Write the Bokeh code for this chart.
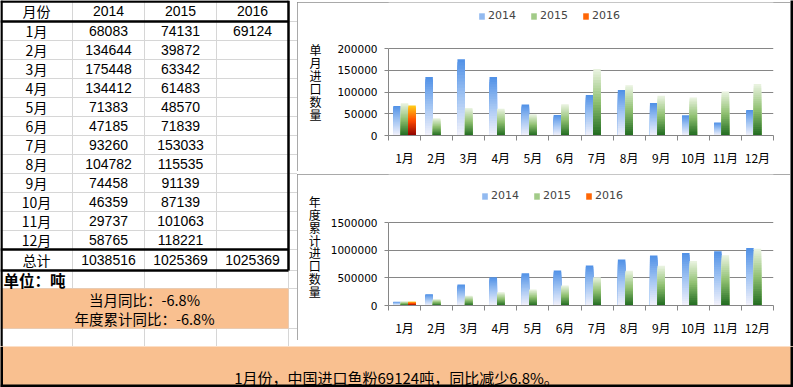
import numpy as np
from bokeh.plotting import figure
from bokeh.models import (Range1d, FixedTicker, LinearAxis, Grid, Legend, LegendItem,
                          ColumnDataSource, NumeralTickFormatter, Spacer)
from bokeh.layouts import row, column
from bokeh.embed import file_html
from bokeh.resources import INLINE
from bokeh.core.properties import value

# ---------------- data ----------------
months = ["1月", "2月", "3月", "4月", "5月", "6月", "7月", "8月", "9月", "10月", "11月", "12月"]
years = ["2014", "2015", "2016"]
imports_2014 = [68083, 134644, 175448, 134412, 71383, 47185, 93260, 104782, 74458, 46359, 29737, 58765]
imports_2015 = [74131, 39872, 63342, 61483, 48570, 71839, 153033, 115535, 91139, 87139, 101063, 118221]
imports_2016 = [69124]
totals = [1038516, 1025369, 1025369]
single_ticks = [0, 50000, 100000, 150000, 200000]
cumulative_ticks = [0, 500000, 1000000, 1500000]
header_label = "月份"
total_label = "总计"
unit_label = "单位：吨"
month_yoy = "当月同比：-6.8%"
ytd_yoy = "年度累计同比：-6.8%"
summary = "1月份，中国进口鱼粉69124吨，同比减少6.8%。"
single_title = "单月进口数量"
cumulative_title = "年度累计进口数量"

# ---------------- styles ----------------
CJK = "Noto Sans CJK SC"
NUM = "DejaVu Sans"
TNUM = "Liberation Sans"
GRAY = "#868686"
SHEET_GRID = "#d6d6d6"
ORANGE = "#f9c090"
N_SEG = 24
BAR_W = 0.234
STOPS = {
    "2014": [(0.0, "#f3f2fb"), (0.5, "#a3c5f3"), (1.0, "#4f90e6")],
    "2015": [(0.0, "#1f6a1f"), (0.5, "#8fc070"), (1.0, "#ecf4e3")],
    "2016": [(0.0, "#8c0000"), (0.5, "#ff4a00"), (1.0, "#ffcf1a")],
}
CW = 493  # chart width


def hex2rgb(h):
    return tuple(int(h[i:i + 2], 16) for i in (1, 3, 5))


def interp(stops, t):
    for (t0, c0), (t1, c1) in zip(stops[:-1], stops[1:]):
        if t <= t1:
            f = (t - t0) / (t1 - t0)
            a, b = hex2rgb(c0), hex2rgb(c1)
            return "#%02x%02x%02x" % tuple(round(a[i] + (b[i] - a[i]) * f) for i in range(3))
    return stops[-1][1]


def make_chart(series, yticks, ytitle, lead_lines, title_standoff, height, bl, fw, axis_top, fh, leg_xy):
    # frame starts at the top of the figure; the value axis only occupies its lower part
    frame_h = axis_top + fh
    ymax = yticks[-1] * frame_h / fh
    p = figure(width=CW, height=height, x_range=Range1d(-0.5, len(months) - 0.5),
               y_range=Range1d(0, ymax), title=None,
               x_axis_type=None, y_axis_type=None, output_backend="svg", toolbar_location=None,
               min_border_left=bl, min_border_right=CW - bl - fw,
               min_border_top=0, min_border_bottom=height - frame_h)
    p.outline_line_color = None
    p.background_fill_color = "white"
    p.border_fill_color = "white"
    p.styles = {"outline": "1px solid #8c8c8c", "outline-offset": "-1px"}

    yaxis = LinearAxis(ticker=FixedTicker(ticks=yticks), formatter=NumeralTickFormatter(format="0"),
                       bounds=(yticks[0], yticks[-1]))
    yaxis.axis_line_color = GRAY
    yaxis.major_tick_line_color = GRAY
    yaxis.major_tick_out = 4
    yaxis.major_tick_in = 0
    yaxis.minor_tick_out = 0
    yaxis.minor_tick_in = 0
    yaxis.major_label_standoff = 7
    yaxis.major_label_text_font = NUM
    yaxis.major_label_text_font_size = "10.5px"
    yaxis.major_label_text_color = "black"
    # stacked upright title: one character per line
    yaxis.axis_label = "\n".join(["\u3000"] * lead_lines + list(ytitle))
    yaxis.axis_label_orientation = "horizontal"
    yaxis.axis_label_text_font = CJK
    yaxis.axis_label_text_font_size = "12px"
    yaxis.axis_label_text_font_style = "normal"
    yaxis.axis_label_text_color = "black"
    yaxis.axis_label_text_line_height = 0.76
    yaxis.axis_label_standoff = title_standoff
    p.add_layout(yaxis, "left")
    p.add_layout(Grid(dimension=1, ticker=yaxis.ticker, grid_line_color=GRAY, grid_line_width=1))

    xaxis = LinearAxis(ticker=FixedTicker(ticks=list(range(len(months))),
                                          minor_ticks=[i - 0.5 for i in range(len(months) + 1)]),
                       major_label_overrides={i: m for i, m in enumerate(months)})
    xaxis.axis_line_color = GRAY
    xaxis.major_tick_out = 0
    xaxis.major_tick_in = 0
    xaxis.minor_tick_out = 5
    xaxis.minor_tick_in = 0
    xaxis.minor_tick_line_color = GRAY
    xaxis.major_label_standoff = 8
    xaxis.major_label_text_font = CJK
    xaxis.major_label_text_font_size = "12px"
    xaxis.major_label_text_color = "black"
    p.add_layout(xaxis, "below")

    items = []
    for j, (name, vals) in enumerate(series):
        n = len(vals)
        xs = [i + (j - 1) * BAR_W for i in range(n)]
        d = {"x": [], "top": [], "color": []}
        for k in range(N_SEG):
            frac = 1 - k / N_SEG
            c = interp(STOPS[name], 1 - (k + 0.5) / N_SEG)
            for x, v in zip(xs, vals):
                d["x"].append(x)
                d["top"].append(v * frac)
                d["color"].append(c)
        r = p.vbar(x="x", top="top", bottom=0, width=BAR_W, fill_color="color",
                   line_color=None, source=ColumnDataSource(d))
        items.append(LegendItem(label=name, renderers=[r], index=(N_SEG * 2 // 5) * n))

    legend = Legend(items=items, orientation="horizontal", location=leg_xy, padding=0, margin=0,
                    spacing=14, glyph_width=7, glyph_height=8, label_standoff=3,
                    label_text_font=NUM, label_text_font_size="11px", label_height=12,
                    border_line_color=None, background_fill_alpha=0)
    p.add_layout(legend)
    return p


cum2014 = list(np.cumsum(imports_2014))
cum2015 = list(np.cumsum(imports_2015))
cum2016 = list(np.cumsum(imports_2016))

c1 = make_chart([("2014", imports_2014), ("2015", imports_2015), ("2016", imports_2016)],
                single_ticks, single_title, 2, 13, 169, 91, 385, 46, 87, (90, 113))
c2 = make_chart([("2014", cum2014), ("2015", cum2015), ("2016", cum2016)],
                cumulative_ticks, cumulative_title, 1, 7, 166, 88, 388, 48, 83, (93, 103))

# ---------------- left: spreadsheet table ----------------
L = figure(width=297, height=346, x_range=Range1d(0, 297), y_range=Range1d(346, 0),
           x_axis_type=None, y_axis_type=None, output_backend="svg", toolbar_location=None,
           min_border=0)
L.outline_line_color = None
L.background_fill_color = "white"
L.border_fill_color = "white"

col_w = 72
n_cols = 4
header_h = 21
row_h = 19
rows_end = header_h + row_h * len(months)
total_end = 270
unit_end = 288
note_end = 328
sheet_end = 346

# sheet grid lines
vx = [col_w * i for i in range(1, n_cols + 1)]
L.segment(x0=vx, y0=[0] * len(vx), x1=vx, y1=[sheet_end] * len(vx), line_color=SHEET_GRID, line_width=1)
hy = [header_h + row_h * i for i in range(len(months) + 1)] + [total_end, unit_end, note_end]
L.segment(x0=[0] * len(hy), y0=hy, x1=[297] * len(hy), y1=hy, line_color=SHEET_GRID, line_width=1)

# orange notes block
L.quad(left=0, right=col_w * n_cols, top=unit_end, bottom=note_end, fill_color=ORANGE, line_color=None)

# thick borders
tw = col_w * n_cols
L.segment(x0=[0, 0, 0, tw, 0, 1], y0=[header_h, rows_end, total_end, 0, 1, 0],
          x1=[tw, tw, tw, tw, tw, 1], y1=[header_h, rows_end, total_end, total_end, 1, sheet_end],
          line_color="black", line_width=2.5)

cx = [col_w * (i + 0.5) for i in range(n_cols)]
L.text(x=[cx[0]], y=[header_h / 2], text=[header_label], text_font=value(CJK), text_font_size="14px",
       text_align="center", text_baseline="middle", text_color="black")
L.text(x=cx[1:], y=[header_h / 2] * 3, text=years, text_font=value(TNUM), text_font_size="14px",
       text_align="center", text_baseline="middle", text_color="black")
ry = [header_h + row_h * (i + 0.5) for i in range(len(months))]
L.text(x=[cx[0]] * len(months), y=ry, text=months, text_font=value(CJK), text_font_size="14px",
       text_align="center", text_baseline="middle", text_color="black")
for ci, vals in zip(cx[1:], [imports_2014, imports_2015, imports_2016]):
    L.text(x=[ci] * len(vals), y=ry[:len(vals)], text=[str(v) for v in vals], text_font=value(TNUM),
           text_font_size="14px", text_align="center", text_baseline="middle", text_color="black")
ty = (rows_end + total_end) / 2
L.text(x=[cx[0]], y=[ty], text=[total_label], text_font=value(CJK), text_font_size="14px",
       text_align="center", text_baseline="middle", text_color="black")
L.text(x=cx[1:], y=[ty] * 3, text=[str(t) for t in totals], text_font=value(TNUM), text_font_size="14px",
       text_align="center", text_baseline="middle", text_color="black")
L.text(x=[3], y=[(total_end + unit_end) / 2], text=[unit_label], text_font=value(CJK),
       text_font_size="15.5px", text_font_style="bold", text_align="left", text_baseline="middle",
       text_color="black")
L.text(x=[tw / 2] * 2, y=[299, 318], text=[month_yoy, ytd_yoy], text_font=value(CJK),
       text_font_size="14.5px", text_align="center", text_baseline="middle", text_color="black")

# ---------------- right black border strip ----------------
S = figure(width=3, height=346, x_axis_type=None, y_axis_type=None, output_backend="svg",
           toolbar_location=None, min_border=0)
S.outline_line_color = None
S.background_fill_color = "black"
S.border_fill_color = "black"

# ---------------- bottom summary band ----------------
B = figure(width=793, height=41, x_range=Range1d(0, 793), y_range=Range1d(387, 346),
           x_axis_type=None, y_axis_type=None, output_backend="svg", toolbar_location=None,
           min_border=0)
B.outline_line_color = None
B.background_fill_color = ORANGE
B.border_fill_color = ORANGE
B.segment(x0=[0, 1, 791.5], y0=[385.5, 346, 346], x1=[793, 1, 791.5], y1=[385.5, 387, 387],
          line_color="black", line_width=3)
B.text(x=[396], y=[377], text=[summary], text_font=value(CJK), text_font_size="15px",
       text_align="center", text_baseline="middle", text_color="black")

charts = column(Spacer(width=CW, height=2), c1, Spacer(width=CW, height=3), c2, Spacer(width=CW, height=6))
layout = column(row(L, charts, S), B)
open("out.html", "w").write(file_html(layout, INLINE))
